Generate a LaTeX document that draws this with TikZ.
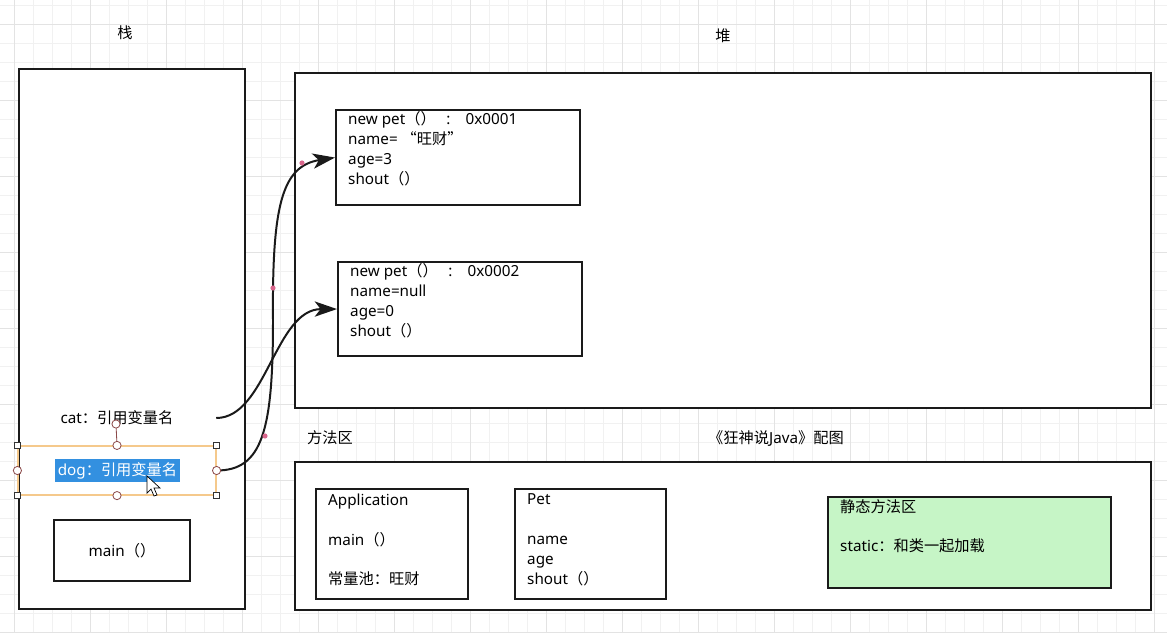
\documentclass[tikz,border=0pt]{standalone}
\usepackage{fontspec}
\setmainfont{Noto Sans}
\newfontfamily\cjk{Noto Sans CJK SC}
\usetikzlibrary{arrows.meta}

\definecolor{gridminor}{HTML}{F1F1F1}
\definecolor{gridmajor}{HTML}{E3E3E3}
\definecolor{selorange}{HTML}{F5C98C}
\definecolor{handlered}{HTML}{8C4A4A}
\definecolor{selblue}{HTML}{3390E0}
\definecolor{staticgreen}{HTML}{C6F5C6}
\definecolor{waypoint}{HTML}{D9668C}
\definecolor{ink}{HTML}{1A1A1A}

\begin{document}
\begin{tikzpicture}[x=0.03cm, y=-0.03cm,
        font=\fontsize{13}{17}\selectfont,
        box/.style={draw=ink, line width=1.8pt, fill=white, inner sep=0pt, anchor=north west},
        pxbox/.style 2 args={minimum width=#1*0.03cm, minimum height=#2*0.03cm},
        txt/.style={anchor=north west, align=left, inner sep=0pt},
        link/.style={draw=ink, line width=1.7pt, -{Stealth[length=19pt, width=13pt, inset=5pt]}},
        handle/.style={draw=handlered, fill=white, line width=0.7pt}]

        \useasboundingbox (0,0) rectangle (1167,632);

        % Raster
        \foreach \gx in {14,33,...,1167} \draw[gridminor, line width=0.6pt] (\gx,0) -- (\gx,632);
        \foreach \gy in {5,24,...,632} \draw[gridminor, line width=0.6pt] (0,\gy) -- (1167,\gy);
        \foreach \gx in {14,90,...,1167} \draw[gridmajor, line width=0.7pt] (\gx,0) -- (\gx,632);
        \foreach \gy in {24,100,...,632} \draw[gridmajor, line width=0.7pt] (0,\gy) -- (1167,\gy);

        % Bereiche
        \node (stacklbl) at (125,33) {\cjk 栈};
        \node (heaplbl) at (723,36) {\cjk 堆};
        \node (methodlbl) at (330,438) {\cjk 方法区};
        \node (credit) at (776,438) {{\cjk 《狂神说}Java{\cjk 》配图}};

        \node[box, pxbox={226}{540}] (stack) at (18,68) {};
        \node[box, pxbox={856}{335}] (heap) at (294,72) {};
        \node[box, pxbox={856}{148}] (method) at (294,461) {};

        % Objekte im Heap
        \node[box, pxbox={244}{95}] (obj1) at (335,109) {};
        \node[txt] (obj1txt) at (348,111) {new pet{\cjk （）}\hspace{9pt}:\hspace{13pt}0x0001\\
            name= {\cjk “旺财”}\\ age=3\\ shout{\cjk （）}};
        \node[box, pxbox={244}{94}] (obj2) at (337,261) {};
        \node[txt] (obj2txt) at (350,263) {new pet{\cjk （）}\hspace{9pt}:\hspace{13pt}0x0002\\
            name=null\\ age=0\\ shout{\cjk （）}};

        % Stack
        \node[pxbox={198}{24}] (catlbl) at (117,418) {cat{\cjk ：引用变量名}};
        \node[draw=selorange, line width=1pt, pxbox={198}{49}] (doglbl) at (117,470.5) {};
        \node[fill=selblue, text=white, inner xsep=2.5pt, inner ysep=0pt, minimum height=0.69cm]
            (dogtxt) at (117.5,470.5) {dog{\cjk ：引用变量名}};
        \node[box, pxbox={136}{61}, anchor=center] (mainbox) at (122,550.5) {main{\cjk （）}};

        % Methodenbereich
        \node[box, pxbox={152}{110}] (app) at (315,488) {};
        \node[txt] (apptxt) at (328,493.5) {Application\\[17pt] main{\cjk （）}\\[17pt] {\cjk 常量池：旺财}};
        \node[box, pxbox={151}{110}] (pet) at (514,488) {};
        \node[txt] (pettxt) at (527,493.5) {Pet\\[17pt] name\\ age\\ shout{\cjk （）}};
        \node[box, pxbox={283}{91}, fill=staticgreen] (static) at (827,496) {};
        \node[txt] (statictxt) at (840,499) {{\cjk 静态方法区}\\[17pt] static{\cjk ：和类一起加载}};

        % Referenzen
        \coordinate (bend) at (273,320);
        \draw[link] (catlbl.east) .. controls +(50,0) and +(-62,0) .. (obj2.west);
        \draw[link] (doglbl.east) .. controls +(46,0) and (273,430) .. (bend)
            .. controls (272,205) and (282,166) .. (obj1.west);
        \foreach \p in {(265,436), (273,288), (302,163)} \fill[waypoint] \p circle[radius=2.2pt];

        % Auswahl
        \foreach \a in {north west, north east, south west, south east}
            \draw[draw=black!80, fill=white, line width=0.7pt] ([shift={(-3,-3)}]doglbl.\a) rectangle ++(6,6);
        \draw[handlered, line width=0.7pt] (doglbl.north) -- (116,424);
        \foreach \a in {north, south, west, east} \draw[handle] (doglbl.\a) circle[radius=3.5pt];
        \draw[handle] (116,424) circle[radius=3.5pt];
        \filldraw[fill=white, draw=black, line width=0.6pt] (147,476) -- (147,493) -- (151,489)
            -- (154,496) -- (157,495) -- (154,488) -- (160,488) -- cycle;

    \end{tikzpicture}
\end{document}
